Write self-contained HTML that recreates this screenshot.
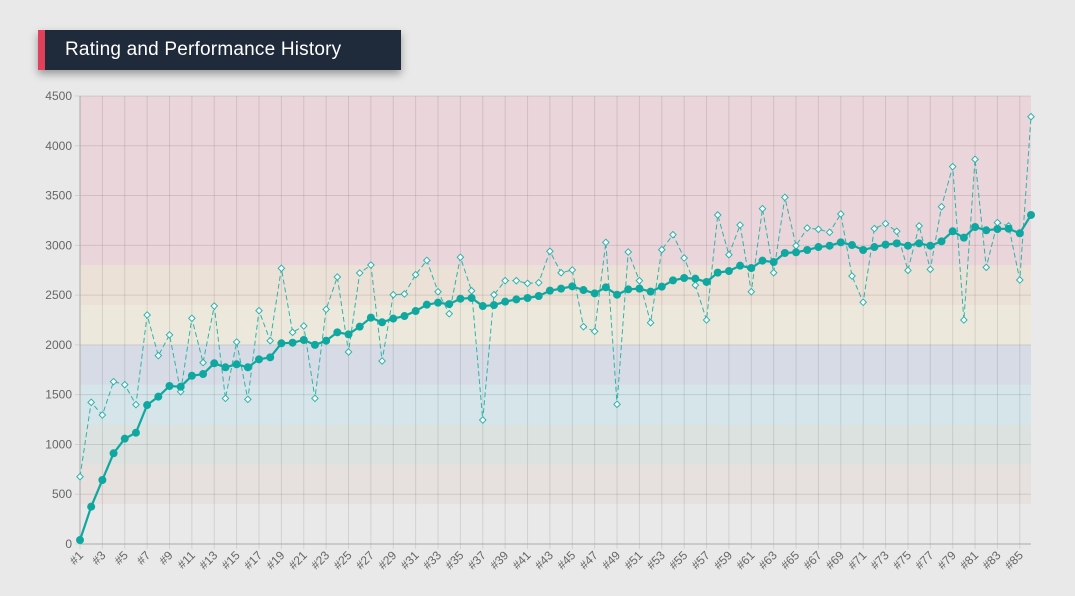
<!DOCTYPE html>
<html><head><meta charset="utf-8">
<style>
html,body{margin:0;padding:0;background:#e9e9e9;width:1075px;height:596px;overflow:hidden;font-family:"Liberation Sans",sans-serif}
#title{position:absolute;left:38px;top:30px;width:363px;height:40px;background:#1f2a3a;box-shadow:0 4px 8px rgba(0,0,0,0.35)}
#title .bar{position:absolute;left:0;top:0;width:7px;height:40px;background:#e0405a}
#title .txt{position:absolute;left:27px;top:9px;color:#fff;font-size:19px;letter-spacing:0.2px}
svg{position:absolute;left:0;top:0}
</style></head><body>
<div id="title"><div class="bar"></div><div class="txt">Rating and Performance History</div></div>
<svg id="chart" width="1075" height="596"></svg>
<script>
const rating=[40,375,643,911,1058,1118,1396,1480,1587,1580,1690,1707,1815,1775,1805,1775,1855,1875,2016,2022,2049,2000,2042,2126,2106,2183,2274,2227,2264,2290,2340,2404,2424,2410,2464,2471,2390,2400,2434,2457,2471,2491,2545,2565,2588,2551,2518,2578,2504,2558,2565,2535,2585,2648,2672,2665,2632,2726,2742,2796,2772,2846,2832,2923,2930,2953,2983,2996,3030,3003,2953,2983,3007,3020,2996,3020,2996,3040,3141,3077,3184,3151,3164,3167,3121,3305];
const performance=[676,1423,1296,1631,1600,1400,2300,1892,2100,1530,2267,1822,2390,1463,2029,1453,2344,2042,2769,2126,2190,1463,2357,2682,1929,2722,2802,1838,2504,2511,2705,2849,2534,2313,2880,2544,1245,2504,2645,2645,2618,2625,2940,2725,2752,2183,2136,3030,1403,2933,2645,2223,2956,3107,2873,2600,2250,3305,2906,3204,2534,3368,2725,3482,2996,3174,3161,3131,3315,2692,2428,3168,3218,3141,2749,3195,2759,3388,3790,2250,3864,2779,3228,3195,2652,4292];
const yTicks=[0,500,1000,1500,2000,2500,3000,3500,4000,4500];
const bandFrom=[400,800,1200,1600,2000,2400,2800];
const bandTo=[800,1200,1600,2000,2400,2800,4500];
const bandColor=['#e6e0de','#dbe2df','#d5e5e9','#d6dbe6','#ece9dc','#ebe1d6','#e9d5da'];
const N=rating.length;
const X0=80,X1=1031,Y0=544,Y1=96,YMAX=4500;
const sx=i=>X0+i*(X1-X0)/(N-1);
const sy=v=>Y0-v*(Y0-Y1)/YMAX;
const svg=document.getElementById('chart');
const NS='http://www.w3.org/2000/svg';
function mk(tag,attrs){const e=document.createElementNS(NS,tag);for(const k in attrs)e.setAttribute(k,attrs[k]);svg.appendChild(e);return e;}
bandFrom.forEach((f,i)=>{
 const r=mk('rect',{x:X0,y:sy(bandTo[i]),width:X1-X0,height:sy(f)-sy(bandTo[i]),fill:bandColor[i]});
 
 
});
yTicks.forEach(v=>{
 const l=mk('line',{x1:X0-5,x2:X1,y1:sy(v),y2:sy(v),stroke:'rgba(0,0,0,0.1)','stroke-width':1});
 
 
 const t=mk('text',{x:X0-8,y:sy(v)+4,'text-anchor':'end','font-size':12,fill:'#666','font-family':'Liberation Sans, sans-serif'});
 t.textContent=v;
 
 
});
for(let i=0;i<N;i+=2){
 const l=mk('line',{x1:sx(i),x2:sx(i),y1:Y1,y2:Y0+5,stroke:'rgba(0,0,0,0.1)','stroke-width':1});
 
 
 const t=mk('text',{x:0,y:0,'text-anchor':'end','font-size':12,fill:'#666','font-family':'Liberation Sans, sans-serif',transform:`translate(${sx(i)+4},${Y0+12}) rotate(-45)`});
 t.textContent='#'+(i+1);
 
 
}
const ax=mk('path',{d:`M${X0},${Y1}V${Y0}H${X1}`,fill:'none',stroke:'#aaa','stroke-width':1});


const pl=mk('polyline',{points:performance.map((v,i)=>sx(i)+','+sy(v)).join(' '),fill:'none',stroke:'#2fb3ab','stroke-width':1,'stroke-dasharray':'5,3'});


const rl=mk('polyline',{points:rating.map((v,i)=>sx(i)+','+sy(v)).join(' '),fill:'none',stroke:'#0fa8a0','stroke-width':2.2});


performance.forEach((v,i)=>{
 const x=sx(i),y=sy(v),s=3.2;
 const p=mk('polygon',{points:`${x},${y-s} ${x+s},${y} ${x},${y+s} ${x-s},${y}`,fill:'#fff',stroke:'#2fb3ab','stroke-width':1});
 
 
});
rating.forEach((v,i)=>{
 const c=mk('circle',{cx:sx(i),cy:sy(v),r:4,fill:'#0fa8a0'});
 
 
});
</script>
</body></html>
